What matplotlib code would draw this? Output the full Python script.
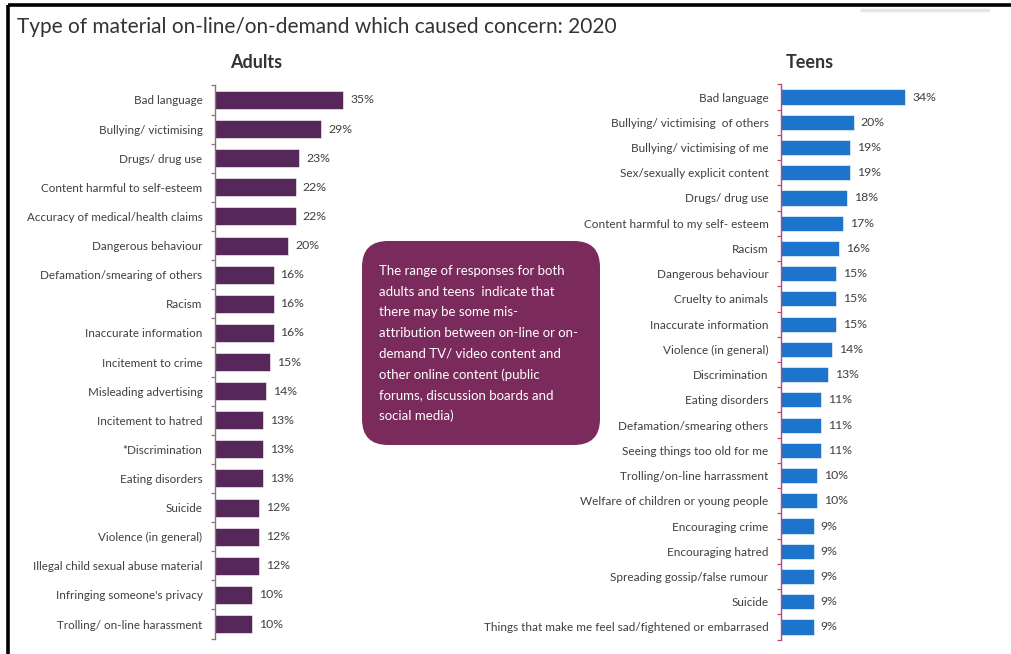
import matplotlib
matplotlib.use("Agg")
import numpy as np
from matplotlib import pyplot as plt
from matplotlib.patches import FancyBboxPatch
from matplotlib.ticker import FixedLocator

# ---- data ----
adult_labels = [
    "Bad language",
    "Bullying/ victimising",
    "Drugs/ drug use",
    "Content harmful to self-esteem",
    "Accuracy of medical/health claims",
    "Dangerous behaviour",
    "Defamation/smearing of others",
    "Racism",
    "Inaccurate information",
    "Incitement to crime",
    "Misleading advertising",
    "Incitement to hatred",
    "*Discrimination",
    "Eating disorders",
    "Suicide",
    "Violence (in general)",
    "Illegal child sexual abuse material",
    "Infringing someone's privacy",
    "Trolling/ on-line harassment",
]
adult_values = [35, 29, 23, 22, 22, 20, 16, 16, 16, 15, 14, 13, 13, 13, 12, 12, 12, 10, 10]

teen_labels = [
    "Bad language",
    "Bullying/ victimising  of others",
    "Bullying/ victimising of me",
    "Sex/sexually explicit content",
    "Drugs/ drug use",
    "Content harmful to my self- esteem",
    "Racism",
    "Dangerous behaviour",
    "Cruelty to animals",
    "Inaccurate information",
    "Violence (in general)",
    "Discrimination",
    "Eating disorders",
    "Defamation/smearing others",
    "Seeing things too old for me",
    "Trolling/on-line harrassment",
    "Welfare of children or young people",
    "Encouraging crime",
    "Encouraging hatred",
    "Spreading gossip/false rumour",
    "Suicide",
    "Things that make me feel sad/fightened or embarrased",
]
teen_values = [34, 20, 19, 19, 18, 17, 16, 15, 15, 15, 14, 13, 11, 11, 11, 10, 10, 9, 9, 9, 9, 9]

title = "Type of material on-line/on-demand which caused concern: 2020"
note_lines = [
    "The range of responses for both",
    "adults and teens  indicate that",
    "there may be some mis-",
    "attribution between on-line or on-",
    "demand TV/ video content and",
    "other online content (public",
    "forums, discussion boards and",
    "social media)",
]

W, H = 1012, 654
FONT = "Lato"
TEXT_COLOR = "#3f3f3f"

fig = plt.figure(figsize=(W / 100, H / 100), dpi=100)
fig.patch.set_facecolor("white")


def px_axes(left, top, right, bottom):
    return fig.add_axes([left / W, 1 - bottom / H, (right - left) / W, (bottom - top) / H])


def bar_panel(ax, labels, values, color, spine_color, bar_height, label_size):
    n = len(labels)
    y = np.arange(n)
    ax.barh(y, values, height=bar_height, color=color, edgecolor="white", linewidth=0.4)
    ax.set_xlim(0, 40)
    ax.set_ylim(n - 0.5, -0.5)
    ax.set_yticks(y)
    ax.set_yticklabels(labels, fontsize=label_size, color=TEXT_COLOR, family=FONT)
    ax.tick_params(axis="y", which="major", length=0, pad=9)
    ax.yaxis.set_minor_locator(FixedLocator(np.arange(n + 1) - 0.5))
    ax.tick_params(axis="y", which="minor", length=3, width=0.9, color=spine_color, direction="out")
    ax.set_xticks([])
    for side in ["top", "right", "bottom"]:
        ax.spines[side].set_visible(False)
    ax.spines["left"].set_color(spine_color)
    ax.spines["left"].set_linewidth(1.0)
    ax.patch.set_alpha(0)
    for i, v in enumerate(values):
        ax.text(v + 1.9, i, f"{v}%", va="center", ha="left", fontsize=8.8,
                color=TEXT_COLOR, family=FONT)


ax_adults = px_axes(215, 85.4, 215 + 3.66 * 40, 638.6)
bar_panel(ax_adults, adult_labels, adult_values, "#56285a", "#8e6e8e", 0.62, 8.4)

ax_teens = px_axes(781, 84.4, 781 + 3.65 * 40, 639.6)
bar_panel(ax_teens, teen_labels, teen_values, "#1c74cc", "#c0457a", 0.6, 8.5)

# overlay in pixel units for frame, titles and the note box
over = fig.add_axes([0, 0, 1, 1], zorder=-1)
over.set_xlim(0, W)
over.set_ylim(H, 0)
over.axis("off")

over.plot([8, W], [5, 5], color="black", linewidth=2.6, solid_capstyle="butt")
over.plot([8, 8], [5, H], color="black", linewidth=2.6, solid_capstyle="butt")
over.plot([862, 988], [10, 10], color="#cfcfcf", linewidth=2.5, alpha=0.5)

over.text(17, 27, title, fontsize=15, color="#333333", family=FONT, va="center", ha="left")
over.text(256, 63, "Adults", fontsize=13, fontweight="bold", color="#333333",
          family=FONT, va="center", ha="center")
over.text(810, 63, "Teens", fontsize=13, fontweight="bold", color="#333333",
          family=FONT, va="center", ha="center")

box = FancyBboxPatch((362, 241), 238, 204, boxstyle="round,pad=0,rounding_size=26",
                     facecolor="#7b2a5c", edgecolor="none")
over.add_patch(box)
for k, line in enumerate(note_lines):
    over.text(379, 271 + k * 20.7, line, fontsize=9.5, color="white", family=FONT,
              va="center", ha="left")

fig.savefig("out.png", dpi=100, facecolor="white")
